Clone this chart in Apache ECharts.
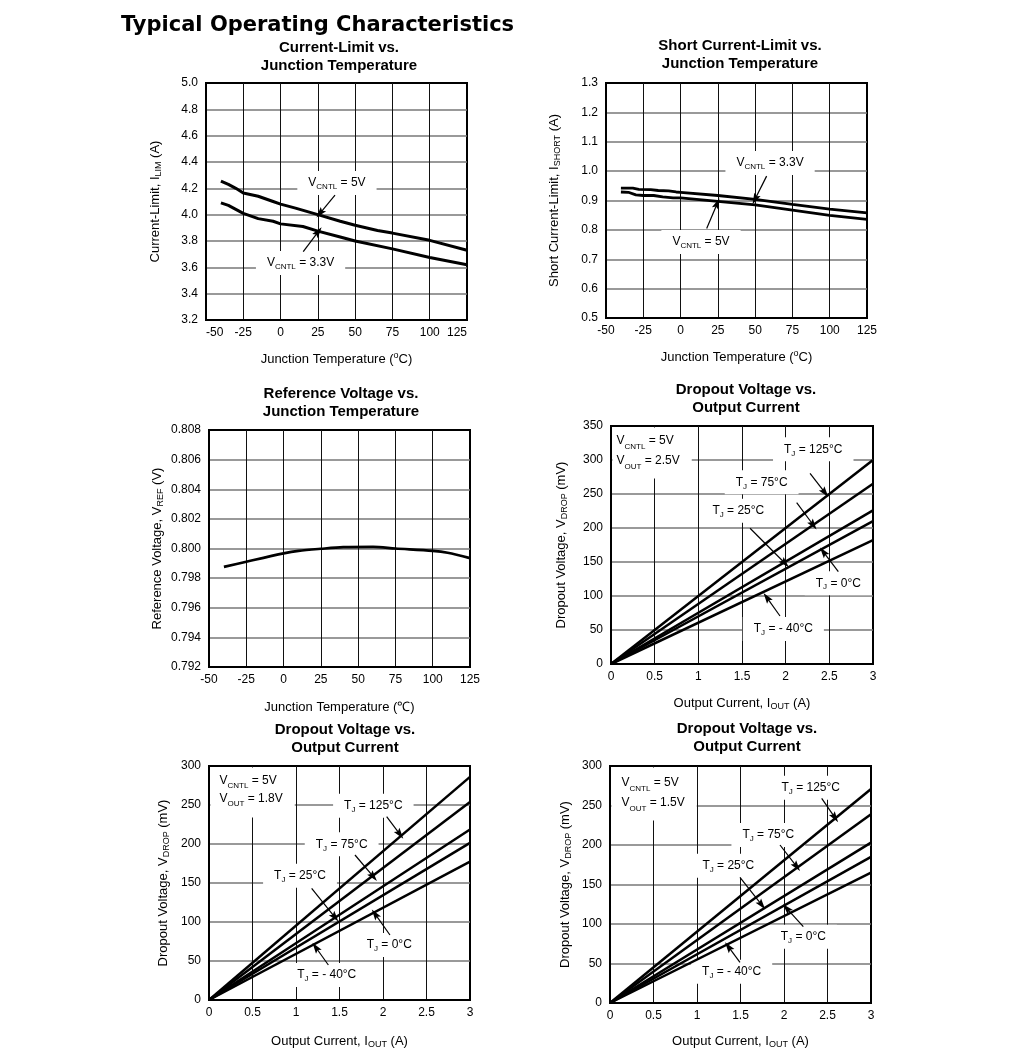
<!DOCTYPE html>
<html><head><meta charset="utf-8">
<script src="https://cdn.jsdelivr.net/npm/echarts@6/dist/echarts.min.js"></script>
<style>html,body{margin:0;padding:0;background:#fff}#c{width:1020px;height:1053px}</style>
</head><body><div id="c"></div>
<script>
// ---------------- DATA ----------------
// Chart 1: Current-Limit vs Junction Temperature
const ilimT5 = [-40,-35,-30,-25,-15,-5,0,10,25,40,50,65,75,100,125];
const ilim5  = [4.255,4.23,4.20,4.165,4.14,4.10,4.08,4.05,4.00,3.95,3.92,3.88,3.86,3.805,3.73];
const ilimT33 = [-40,-35,-30,-25,-15,-5,0,15,25,40,50,75,100,125];
const ilim33  = [4.09,4.07,4.04,4.01,3.97,3.95,3.93,3.91,3.875,3.83,3.80,3.74,3.675,3.62];
// Chart 2: Short Current-Limit vs Junction Temperature
const ishT33 = [-40,-32,-28,-20,-15,-8,-3,0,25,50,75,100,125];
const ish33  = [0.942,0.942,0.938,0.937,0.934,0.933,0.929,0.928,0.917,0.904,0.887,0.871,0.858];
const ishT5  = [-40,-35,-30,-25,-18,-12,-5,0,25,50,75,100,125];
const ish5   = [0.929,0.928,0.919,0.917,0.917,0.912,0.909,0.909,0.897,0.885,0.867,0.849,0.836];
// Chart 3: Reference Voltage vs Junction Temperature
const vrefT = [-40,-25,0,10,25,40,60,75,100,110,125];
const vref  = [0.79876,0.79911,0.79967,0.79984,0.79998,0.80009,0.80011,0.80000,0.79984,0.79971,0.79935];
// Dropout charts: current points (A)
const ioutPts = [0, 3];
const tempLabels = ['125', '75', '25', '0', '- 40'];
// VOUT = 2.5V
const d25_125 = [0, 300], d25_75 = [0, 265], d25_25 = [0, 226], d25_0 = [0, 210], d25_m40 = [0, 182];
// VOUT = 1.8V
const d18_125 = [0, 286], d18_75 = [0, 254], d18_25 = [0, 218.5], d18_0 = [0, 201.5], d18_m40 = [0, 177.5];
// VOUT = 1.5V
const d15_125 = [0, 271], d15_75 = [0, 239], d15_25 = [0, 203], d15_0 = [0, 185], d15_m40 = [0, 165];

// ---------------- STYLE ----------------
const FONT = '"Liberation Sans", Arial, Helvetica, sans-serif';
function mkRich(fs, lh, sfs) {
  return {
    n: {fontFamily: FONT, fontSize: fs, lineHeight: lh, color: '#000'},
    s: {fontFamily: FONT, fontSize: sfs, lineHeight: lh - 7, verticalAlign: 'bottom', color: '#000'},
    u: {fontFamily: FONT, fontSize: sfs, lineHeight: lh - 7, verticalAlign: 'top', color: '#000'}
  };
}
const nameRich = mkRich(13, 16, 9);
const labRich = mkRich(12, 16, 8);
const ARROW = 'path://M5,0 L10,16 L5,13 L0,16 Z';

const chart = echarts.init(document.getElementById('c'));

const gridPos = [
  {left: 206, top: 83, width: 261, height: 237},
  {left: 606, top: 83, width: 261, height: 235},
  {left: 209, top: 430, width: 261, height: 237},
  {left: 611, top: 426, width: 262, height: 238},
  {left: 209, top: 766, width: 261, height: 234},
  {left: 610, top: 766, width: 261, height: 237}
];
const grids = gridPos.map(g => Object.assign({show: true, borderColor: '#000', borderWidth: 2, backgroundColor: 'rgba(0,0,0,0)'}, g));

function xAx(i, min, max, interval, name, gap, minAlign, maxAlign) {
  return {
    type: 'value', gridIndex: i, min, max, interval,
    name, nameLocation: 'middle', nameGap: gap,
    nameTextStyle: {rich: nameRich, fontFamily: FONT, fontSize: 13, color: '#000'},
    axisLine: {show: true, onZero: false, lineStyle: {color: '#000', width: 2}},
    axisTick: {show: false},
    axisLabel: {fontFamily: FONT, fontSize: 12, color: '#000', margin: 7,
      alignMinLabel: minAlign, alignMaxLabel: maxAlign},
    splitLine: {show: true, showMinLine: false, showMaxLine: false, lineStyle: {color: '#111', width: 1}}
  };
}
function yAx(i, min, max, interval, name, gap, dec) {
  return {
    type: 'value', gridIndex: i, min, max, interval,
    name, nameLocation: 'middle', nameGap: gap, nameRotate: 90,
    nameTextStyle: {rich: nameRich, fontFamily: FONT, fontSize: 13, color: '#000'},
    axisLine: {show: true, onZero: false, lineStyle: {color: '#000', width: 2}},
    axisTick: {show: false},
    axisLabel: {fontFamily: FONT, fontSize: 12, color: '#000', margin: 8,
      formatter: v => dec === null ? String(Math.round(v)) : v.toFixed(dec)},
    splitLine: {show: true, showMinLine: false, showMaxLine: false, lineStyle: {color: '#777', width: 1.5}}
  };
}
const tempName = '{n|Junction Temperature (}{u|o}{n|C)}';
const xAxes = [
  xAx(0, -50, 125, 25, tempName, 31, 'left', 'right'),
  xAx(1, -50, 125, 25, tempName, 31, 'center', 'center'),
  xAx(2, -50, 125, 25, '{n|Junction Temperature (℃)}', 32, 'center', 'center'),
  xAx(3, 0, 3, 0.5, '{n|Output Current, I}{s|OUT}{n| (A)}', 31, 'center', 'center'),
  xAx(4, 0, 3, 0.5, '{n|Output Current, I}{s|OUT}{n| (A)}', 33, 'center', 'center'),
  xAx(5, 0, 3, 0.5, '{n|Output Current, I}{s|OUT}{n| (A)}', 30, 'center', 'center')
];
const yAxes = [
  yAx(0, 3.2, 5.0, 0.2, '{n|Current-Limit, I}{s|LIM}{n| (A)}', 43, 1),
  yAx(1, 0.5, 1.3, 0.1, '{n|Short Current-Limit, I}{s|SHORT}{n| (A)}', 44, 1),
  yAx(2, 0.792, 0.808, 0.002, '{n|Reference Voltage, V}{s|REF}{n| (V)}', 44, 3),
  yAx(3, 0, 350, 50, '{n|Dropout Voltage, V}{s|DROP}{n| (mV)}', 42, null),
  yAx(4, 0, 300, 50, '{n|Dropout Voltage, V}{s|DROP}{n| (mV)}', 38, null),
  yAx(5, 0, 300, 50, '{n|Dropout Voltage, V}{s|DROP}{n| (mV)}', 37, null)
];

function vlab(sub, rest) { return '{n|V}{s|' + sub + '}{n| = ' + rest + '}'; }
function tjlab(t) { return '{n|T}{s|J}{n| = ' + t + '°C}'; }

function markers(labels, arrows, box) {
  const mpData = labels.map(l => ({
    coord: [l[0], l[1]],
    label: {formatter: l[2]}
  }));
  if (box) {
    mpData.push({
      coord: box.coord,
      label: {formatter: box.text, position: [2, 2], align: 'left', verticalAlign: 'top',
        padding: box.padding, rich: mkRich(12, box.lh, 8)}
    });
  }
  return {
    markPoint: {
      silent: true, animation: false, symbol: 'rect', symbolSize: 1, z: 1,
      itemStyle: {color: 'rgba(0,0,0,0)'},
      label: {show: true, position: 'inside', backgroundColor: '#fff', padding: [4, 11, 4, 11],
        rich: labRich, color: '#000'},
      emphasis: {disabled: true},
      data: mpData
    },
    markLine: {
      silent: true, animation: false, symbol: ['none', ARROW], symbolSize: [4, 11], z: 6,
      label: {show: false},
      lineStyle: {color: '#000', width: 1.2, type: 'solid'},
      itemStyle: {color: '#000'},
      emphasis: {disabled: true},
      data: arrows.map(a => [{coord: [a[0], a[1]]}, {coord: [a[2], a[3]], symbolSize: [7, 11]}])
    }
  };
}

function line(gi, xs, ys, width, extra) {
  return Object.assign({
    type: 'line', xAxisIndex: gi, yAxisIndex: gi,
    data: xs.map((x, i) => [x, ys[i]]),
    symbol: 'none', silent: true, animation: false, z: 4,
    lineStyle: {color: '#000', width: width}
  }, extra || {});
}

const series = [];
// Chart 1
series.push(line(0, ilimT5, ilim5, 3, markers(
  [[37.8, 4.24, vlab('CNTL', '5V')], [13.4, 3.633, vlab('CNTL', '3.3V')]],
  [[36.5, 4.149, 26.4, 4.010], [15.2, 3.719, 25.3, 3.871]])));
series.push(line(0, ilimT33, ilim33, 3));
// Chart 2
series.push(line(1, ishT33, ish33, 2.8, markers(
  [[60, 1.028, vlab('CNTL', '3.3V')], [13.7, 0.759, vlab('CNTL', '5V')]],
  [[57.7, 0.983, 49.9, 0.904], [17.5, 0.805, 24.6, 0.890]])));
series.push(line(1, ishT5, ish5, 2.8));
// Chart 3
series.push(line(2, vrefT, vref, 2.6, {smooth: 0.3}));
// Chart 4
series.push(line(3, ioutPts, d25_125, 2.5, markers(
  [[2.316, 315.7, tjlab(tempLabels[0])], [1.725, 267.2, tjlab(tempLabels[1])], [1.458, 225.4, tjlab(tempLabels[2])],
   [2.603, 118.7, tjlab(tempLabels[3])], [1.973, 51.5, tjlab(tempLabels[4])]],
  [[2.279, 280.4, 2.450, 251.9], [2.126, 237.2, 2.316, 204.4], [1.592, 199.6, 1.992, 148.1],
   [2.603, 135.8, 2.431, 165], [1.935, 70.6, 1.783, 98]],
  {coord: [0, 350], text: vlab('CNTL', '5V') + '\n' + vlab('OUT', '2.5V'), padding: [3, 12, 8, 4], lh: 20})));
series.push(line(3, ioutPts, d25_75, 2.5));
series.push(line(3, ioutPts, d25_25, 2.5));
series.push(line(3, ioutPts, d25_0, 2.5));
series.push(line(3, ioutPts, d25_m40, 2.5));
// Chart 5
series.push(line(4, ioutPts, d18_125, 2.5, markers(
  [[1.889, 249.1, tjlab(tempLabels[0])], [1.525, 199.6, tjlab(tempLabels[1])], [1.046, 159.4, tjlab(tempLabels[2])],
   [2.072, 70.5, tjlab(tempLabels[3])], [1.353, 32, tjlab(tempLabels[4])]],
  [[2.042, 235, 2.195, 212.4], [1.678, 185.9, 1.889, 158.1], [1.180, 143.2, 1.448, 106],
   [2.080, 83.3, 1.908, 110.3], [1.372, 44.9, 1.226, 67.6]],
  {coord: [0, 300], text: vlab('CNTL', '5V') + '\n' + vlab('OUT', '1.8V'), padding: [4, 12, 10, 9], lh: 18})));
series.push(line(4, ioutPts, d18_75, 2.5));
series.push(line(4, ioutPts, d18_25, 2.5));
series.push(line(4, ioutPts, d18_0, 2.5));
series.push(line(4, ioutPts, d18_m40, 2.5));
// Chart 6
series.push(line(5, ioutPts, d15_125, 2.5, markers(
  [[2.307, 272.5, tjlab(tempLabels[0])], [1.820, 212.7, tjlab(tempLabels[1])], [1.360, 173.8, tjlab(tempLabels[2])],
   [2.222, 84, tjlab(tempLabels[3])], [1.398, 39.6, tjlab(tempLabels[4])]],
  [[2.433, 259.1, 2.586, 234.6], [1.954, 200, 2.146, 172.5], [1.494, 159.1, 1.744, 124.1],
   [2.222, 96.6, 2.031, 119.9], [1.494, 51.5, 1.360, 71.3]],
  {coord: [0, 300], text: vlab('CNTL', '5V') + '\n' + vlab('OUT', '1.5V'), padding: [5, 12, 8, 10], lh: 20})));
series.push(line(5, ioutPts, d15_75, 2.5));
series.push(line(5, ioutPts, d15_25, 2.5));
series.push(line(5, ioutPts, d15_0, 2.5));
series.push(line(5, ioutPts, d15_m40, 2.5));

function sub(text, cx, top) {
  return {text, left: cx, top, textAlign: 'center', padding: 0,
    textStyle: {fontFamily: FONT, fontWeight: 'bold', fontSize: 15, lineHeight: 18, color: '#000'}};
}
const titles = [
  {text: 'Typical Operating Characteristics', left: 121, top: 15, padding: 0,
    textStyle: {fontFamily: '"DejaVu Sans", Verdana, sans-serif', fontWeight: 'bold', fontSize: 21, color: '#000'}},
  sub('Current-Limit vs.\nJunction Temperature', 339, 39),
  sub('Short Current-Limit vs.\nJunction Temperature', 740, 37),
  sub('Reference Voltage vs.\nJunction Temperature', 341, 385),
  sub('Dropout Voltage vs.\nOutput Current', 746, 381),
  sub('Dropout Voltage vs.\nOutput Current', 345, 721),
  sub('Dropout Voltage vs.\nOutput Current', 747, 720)
];

chart.setOption({
  animation: false,
  backgroundColor: '#fff',
  title: titles,
  grid: grids,
  xAxis: xAxes,
  yAxis: yAxes,
  series: series
});
</script>
</body></html>
